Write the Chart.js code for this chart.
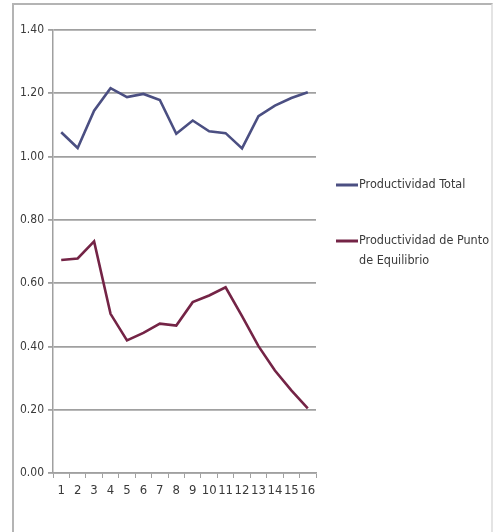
<!DOCTYPE html>
<html>
<head>
<meta charset="utf-8">
<script src="https://cdn.jsdelivr.net/npm/chart.js@4/dist/chart.umd.min.js"></script>
<style>
  html, body { margin: 0; padding: 0; background: #fff; overflow: hidden; }
  #marco { position: absolute; left: 12px; top: 3px; width: 481px; height: 560px; border: 2px solid #b4b4b4; border-right-color: #e4e4e4; box-sizing: border-box; }
  #caja { position: absolute; left: 0; top: 0; width: 496px; height: 532px; }
</style>
</head>
<body>
<div id="marco"></div>
<div id="caja"><canvas id="miGrafico"></canvas></div>
<script>
// datos
var periodos = ['1','2','3','4','5','6','7','8','9','10','11','12','13','14','15','16'];
var productividadTotal = [1.077, 1.027, 1.145, 1.216, 1.188, 1.198, 1.179, 1.072, 1.114, 1.080, 1.074, 1.026, 1.128, 1.161, 1.185, 1.203];
var productividadEquilibrio = [0.673, 0.678, 0.732, 0.503, 0.419, 0.443, 0.472, 0.466, 0.540, 0.561, 0.587, 0.496, 0.401, 0.324, 0.261, 0.204];
var etiquetasSeries = ['Productividad Total', 'Productividad de Punto de Equilibrio'];
var ticksY = [0, 0.2, 0.4, 0.6, 0.8, 1.0, 1.2, 1.4];

var fuente = "'DejaVu Sans Condensed', 'Liberation Sans Narrow', sans-serif";

// leyenda a la derecha, con el texto partido como en Excel
var leyendaDerecha = {
  id: 'leyendaDerecha',
  afterDraw: function (chart) {
    var ctx = chart.ctx;
    var filas = [
      { color: chart.data.datasets[0].borderColor, lineas: ['Productividad Total'], y: 185 },
      { color: chart.data.datasets[1].borderColor, lineas: ['Productividad de Punto', 'de Equilibrio'], y: 241 }
    ];
    ctx.save();
    ctx.font = '12.5px ' + fuente;
    ctx.fillStyle = '#3a3a3a';
    ctx.textBaseline = 'middle';
    filas.forEach(function (f) {
      ctx.strokeStyle = f.color;
      ctx.lineWidth = 3;
      ctx.beginPath();
      ctx.moveTo(336, f.y);
      ctx.lineTo(358, f.y);
      ctx.stroke();
      f.lineas.forEach(function (t, i) {
        ctx.fillText(t, 359, f.y + i * 20);
      });
    });
    ctx.restore();
  }
};

var ctx = document.getElementById('miGrafico').getContext('2d');
var miGrafico = new Chart(ctx, {
  type: 'line',
  data: {
    labels: periodos,
    datasets: [{
      label: etiquetasSeries[0],
      data: productividadTotal,
      borderColor: '#4b4f82',
      borderWidth: 2.6,
      pointRadius: 0,
      tension: 0
    }, {
      label: etiquetasSeries[1],
      data: productividadEquilibrio,
      borderColor: '#742446',
      borderWidth: 2.6,
      pointRadius: 0,
      tension: 0
    }]
  },
  options: {
    responsive: true,
    maintainAspectRatio: false,
    animation: false,
    layout: { padding: { left: 0, top: 30, right: 180, bottom: 0 } },
    plugins: { legend: { display: false }, tooltip: { enabled: false } },
    scales: {
      x: {
        offset: true,
        grid: { offset: true, drawOnChartArea: false, color: '#a0a0a0', tickLength: 5, lineWidth: 1 },
        border: { color: '#a0a0a0', width: 1.5 },
        ticks: { color: '#3a3a3a', padding: 5, maxRotation: 0, autoSkip: false, font: { family: fuente, size: 13 } },
        afterFit: function (s) { s.height = 59; }
      },
      y: {
        min: 0,
        max: 1.4,
        afterBuildTicks: function (s) { s.ticks = ticksY.map(function (v) { return { value: v }; }); },
        grid: { color: '#a0a0a0', lineWidth: 1.8, tickLength: 5 },
        border: { color: '#a0a0a0', width: 1.5 },
        ticks: {
          color: '#3a3a3a', padding: 4, font: { family: fuente, size: 12 },
          callback: function (v) { return Number(v).toFixed(2); }
        },
        afterFit: function (s) { s.width = 53; }
      }
    }
  },
  plugins: [leyendaDerecha]
});
</script>
</body>
</html>
